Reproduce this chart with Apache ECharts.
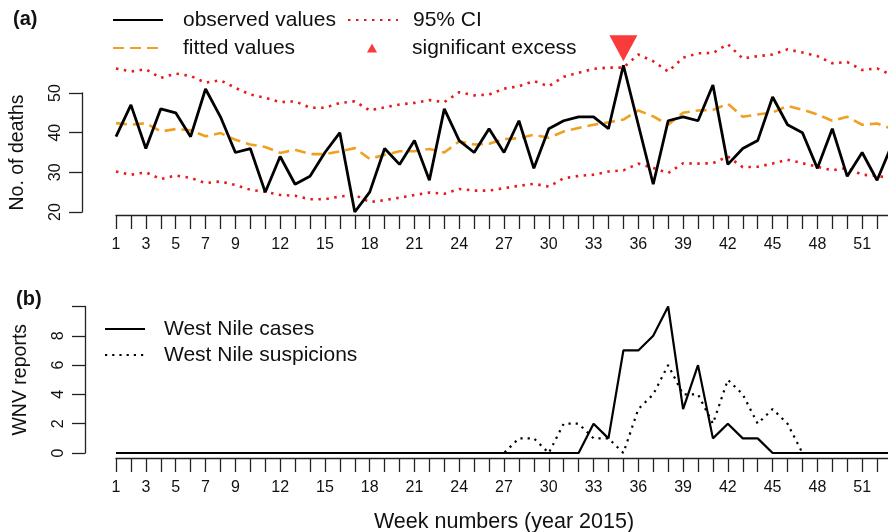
<!DOCTYPE html>
<html>
<head>
<meta charset="utf-8">
<script src="https://cdn.jsdelivr.net/npm/echarts@6.0.0/dist/echarts.min.js"></script>
<style>
  html, body { margin: 0; padding: 0; background: #fff; }
  #chart { width: 888px; height: 532px; }
</style>
</head>
<body>
<div id="chart"></div>
<script>
// week numbers (year 2015)
var weeks = [1, 2, 3, 4, 5, 6, 7, 8, 9, 10, 11, 12, 13, 14, 15, 16, 17, 18, 19, 20,
  21, 22, 23, 24, 25, 26, 27, 28, 29, 30, 31, 32, 33, 34, 35, 36, 37, 38, 39, 40,
  41, 42, 43, 44, 45, 46, 47, 48, 49, 50, 51, 52, 53];
var weekLabels = [1, 3, 5, 7, 9, 12, 15, 18, 21, 24, 27, 30, 33, 36, 39, 42, 45, 48, 51];
var deathTicks = [20, 30, 40, 50];
var wnvTicks = [0, 2, 4, 6, 8];

// (a) deaths
var observed = [39, 47, 36, 46, 45, 39, 51, 44, 35, 36,
  25, 34, 27, 29, 35, 40, 20, 25, 36, 32,
  38, 28, 46, 38, 35, 41, 35, 43, 31, 41,
  43, 44, 44, 41, 57, 42, 27, 43, 44, 43,
  52, 32, 36, 38, 49, 42, 40, 31, 41, 29,
  35, 28, 37];
var fitted = [42.4, 42.0, 42.4, 40.3, 40.9, 40.6, 39.1, 39.9, 38.2, 37.0,
  36.4, 34.9, 35.7, 34.6, 34.6, 35.3, 36.1, 33.4, 34.4, 35.3,
  35.3, 35.9, 35.0, 37.8, 37.0, 37.2, 38.4, 38.6, 39.5, 38.7,
  40.3, 41.2, 42.0, 42.6, 43.3, 45.6, 44.1, 42.0, 45.0, 45.6,
  45.7, 47.3, 44.0, 44.6, 45.1, 46.7, 45.8, 44.6, 43.0, 44.0,
  42.0, 42.3, 41.0];
var ciUpper = [56.2, 55.4, 56.0, 53.8, 54.9, 54.3, 52.6, 53.2, 51.3, 49.6,
  48.8, 47.7, 47.9, 46.3, 46.3, 47.5, 47.9, 45.6, 46.4, 47.1,
  47.5, 48.2, 47.7, 50.2, 49.4, 49.6, 51.1, 51.7, 53.0, 51.7,
  54.1, 55.1, 56.1, 56.4, 56.4, 59.7, 58.0, 55.4, 58.9, 60.0,
  60.1, 62.3, 58.7, 59.3, 59.7, 61.0, 60.2, 59.3, 57.5, 57.8,
  55.8, 56.2, 54.5];
var ciLower = [30.2, 29.4, 30.0, 28.3, 29.2, 28.6, 27.3, 27.7, 26.8, 25.6,
  25.1, 24.3, 24.1, 23.2, 23.2, 23.9, 24.3, 22.5, 23.0, 23.6,
  24.3, 24.9, 24.6, 25.8, 25.4, 25.4, 26.0, 26.6, 27.1, 26.4,
  28.5, 29.1, 29.4, 30.2, 30.5, 32.2, 31.1, 29.8, 32.3, 32.2,
  32.3, 34.0, 31.3, 31.4, 32.2, 33.2, 32.3, 31.4, 30.5, 31.1,
  29.4, 29.1, 28.5];
var excessWeeks = [35];
var excessMarkLevel = 61.3;

// (b) West Nile reports
var wnvCases = [0, 0, 0, 0, 0, 0, 0, 0, 0, 0,
  0, 0, 0, 0, 0, 0, 0, 0, 0, 0,
  0, 0, 0, 0, 0, 0, 0, 0, 0, 0,
  0, 0, 2, 1, 7, 7, 8, 10, 3, 6,
  1, 2, 1, 1, 0, 0, 0, 0, 0, 0,
  0, 0, 0];
var wnvSuspicions = [0, 0, 0, 0, 0, 0, 0, 0, 0, 0,
  0, 0, 0, 0, 0, 0, 0, 0, 0, 0,
  0, 0, 0, 0, 0, 0, 0, 1, 1, 0,
  2, 2, 1, 1, 0, 3, 4, 6, 4, 4,
  2, 5, 4, 2, 3, 2, 0, 0, 0, 0,
  0, 0, 0];

function pairs(vals) {
  return vals.map(function (v, i) { return [weeks[i], v]; });
}

var ink = '#111';
var font = 'Liberation Sans, Arial, sans-serif';
var axisLineStyle = { color: '#222', width: 1.3 };

function weekAxis(gridIndex, offset, withName) {
  var ax = {
    type: 'value',
    gridIndex: gridIndex,
    min: 1,
    max: 53,
    interval: 1,
    offset: offset,
    axisLine: { show: true, onZero: false, lineStyle: axisLineStyle },
    axisTick: { show: true, length: 14, lineStyle: axisLineStyle },
    splitLine: { show: false },
    axisLabel: {
      margin: 22,
      fontSize: 16,
      fontFamily: font,
      color: ink,
      formatter: function (v) {
        return weekLabels.indexOf(v) >= 0 ? String(v) : '';
      }
    }
  };
  if (withName) {
    ax.name = 'Week numbers (year 2015)';
    ax.nameLocation = 'middle';
    ax.nameGap = 53;
    ax.nameTextStyle = { fontSize: 21.5, fontFamily: font, color: ink };
  }
  return ax;
}

function countAxis(gridIndex, min, max, interval, ticks, offset, name) {
  return {
    type: 'value',
    gridIndex: gridIndex,
    min: min,
    max: max,
    interval: interval,
    offset: offset,
    name: name,
    nameLocation: 'middle',
    nameRotate: 90,
    nameGap: 54,
    nameTextStyle: { fontSize: 19.5, fontFamily: font, color: ink },
    axisLine: { show: true, lineStyle: axisLineStyle },
    axisTick: { show: true, length: 13, lineStyle: axisLineStyle },
    splitLine: { show: false },
    axisLabel: {
      rotate: 90,
      margin: 18,
      fontSize: 16,
      fontFamily: font,
      color: ink,
      formatter: function (v) {
        return ticks.indexOf(v) >= 0 ? String(v) : '';
      }
    }
  };
}

var legendText = { fontSize: 21, fontFamily: font, color: ink, lineHeight: 22 };
// line-only legend keys: hide the symbol dot, keep the line
var noDot = { opacity: 0 };

var option = {
  animation: false,
  backgroundColor: '#fff',
  title: [
    { text: '(a)', left: 8, top: 4, textStyle: { fontSize: 20, fontWeight: 'bold', fontFamily: font, color: ink } },
    { text: '(b)', left: 11, top: 284, textStyle: { fontSize: 20, fontWeight: 'bold', fontFamily: font, color: ink } }
  ],
  legend: [
    {
      data: ['observed values', 'fitted values'],
      orient: 'vertical', left: 107, top: 4,
      itemWidth: 50, itemHeight: 14, itemGap: 6,
      itemStyle: noDot,
      selectedMode: false,
      textStyle: Object.assign({ padding: [0, 0, 0, 15] }, legendText)
    },
    {
      data: ['95% CI'],
      left: 342, top: 4,
      itemWidth: 50, itemHeight: 14,
      itemStyle: noDot,
      selectedMode: false,
      textStyle: Object.assign({ padding: [0, 0, 0, 10] }, legendText)
    },
    {
      data: [{ name: 'significant excess', icon: 'triangle' }],
      left: 362, top: 32,
      itemWidth: 10, itemHeight: 9,
      symbolRotate: 0,
      selectedMode: false,
      textStyle: Object.assign({ padding: [0, 0, 0, 30] }, legendText)
    },
    {
      data: ['West Nile cases', 'West Nile suspicions'],
      orient: 'vertical', left: 99, top: 313,
      itemWidth: 40, itemHeight: 14, itemGap: 4,
      itemStyle: noDot,
      selectedMode: false,
      textStyle: Object.assign({ padding: [0, 0, 0, 14] }, legendText)
    }
  ],
  grid: [
    { left: 116, right: -4, top: 93, height: 119, containLabel: false, outerBoundsMode: 'none' },
    { left: 116, right: -4, top: 306.5, height: 146.5, containLabel: false, outerBoundsMode: 'none' }
  ],
  xAxis: [weekAxis(0, 3, false), weekAxis(1, 5, true)],
  yAxis: [
    countAxis(0, 20, 50, 10, deathTicks, 34, 'No. of deaths'),
    countAxis(1, 0, 10, 2, wnvTicks, 31, 'WNV reports')
  ],
  series: [
    {
      name: '95% CI', type: 'line', xAxisIndex: 0, yAxisIndex: 0,
      data: pairs(ciUpper), symbol: 'none', clip: false,
      lineStyle: { color: '#E8191E', width: 2.6, type: [2.5, 5.5] },
      itemStyle: { color: '#E8191E' }
    },
    {
      name: '95% CI', type: 'line', xAxisIndex: 0, yAxisIndex: 0,
      data: pairs(ciLower), symbol: 'none', clip: false,
      lineStyle: { color: '#E8191E', width: 2.6, type: [2.5, 5.5] },
      itemStyle: { color: '#E8191E' }
    },
    {
      name: 'fitted values', type: 'line', xAxisIndex: 0, yAxisIndex: 0,
      data: pairs(fitted), symbol: 'none', clip: false,
      lineStyle: { color: '#F0A020', width: 2.6, type: [11, 6] },
      itemStyle: { color: '#F0A020' }
    },
    {
      name: 'observed values', type: 'line', xAxisIndex: 0, yAxisIndex: 0,
      data: pairs(observed), symbol: 'none', clip: false,
      lineStyle: { color: '#000', width: 2.8 },
      itemStyle: { color: '#000' }
    },
    {
      name: 'significant excess', type: 'scatter', xAxisIndex: 0, yAxisIndex: 0,
      data: excessWeeks.map(function (w) { return [w, excessMarkLevel]; }),
      symbol: 'triangle', symbolRotate: 180, symbolSize: [28, 26], clip: false,
      itemStyle: { color: '#F80A0A' }
    },
    {
      name: 'West Nile suspicions', type: 'line', xAxisIndex: 1, yAxisIndex: 1,
      data: pairs(wnvSuspicions), symbol: 'none', clip: false,
      lineStyle: { color: '#000', width: 2.2, type: [2.2, 5] },
      itemStyle: { color: '#000' }
    },
    {
      name: 'West Nile cases', type: 'line', xAxisIndex: 1, yAxisIndex: 1,
      data: pairs(wnvCases), symbol: 'none', clip: false,
      lineStyle: { color: '#000', width: 2.2 },
      itemStyle: { color: '#000' }
    }
  ]
};

var myChart = echarts.init(document.getElementById('chart'));
myChart.setOption(option);
window.addEventListener('resize', function () {
  myChart.resize();
});
</script>
</body>
</html>
